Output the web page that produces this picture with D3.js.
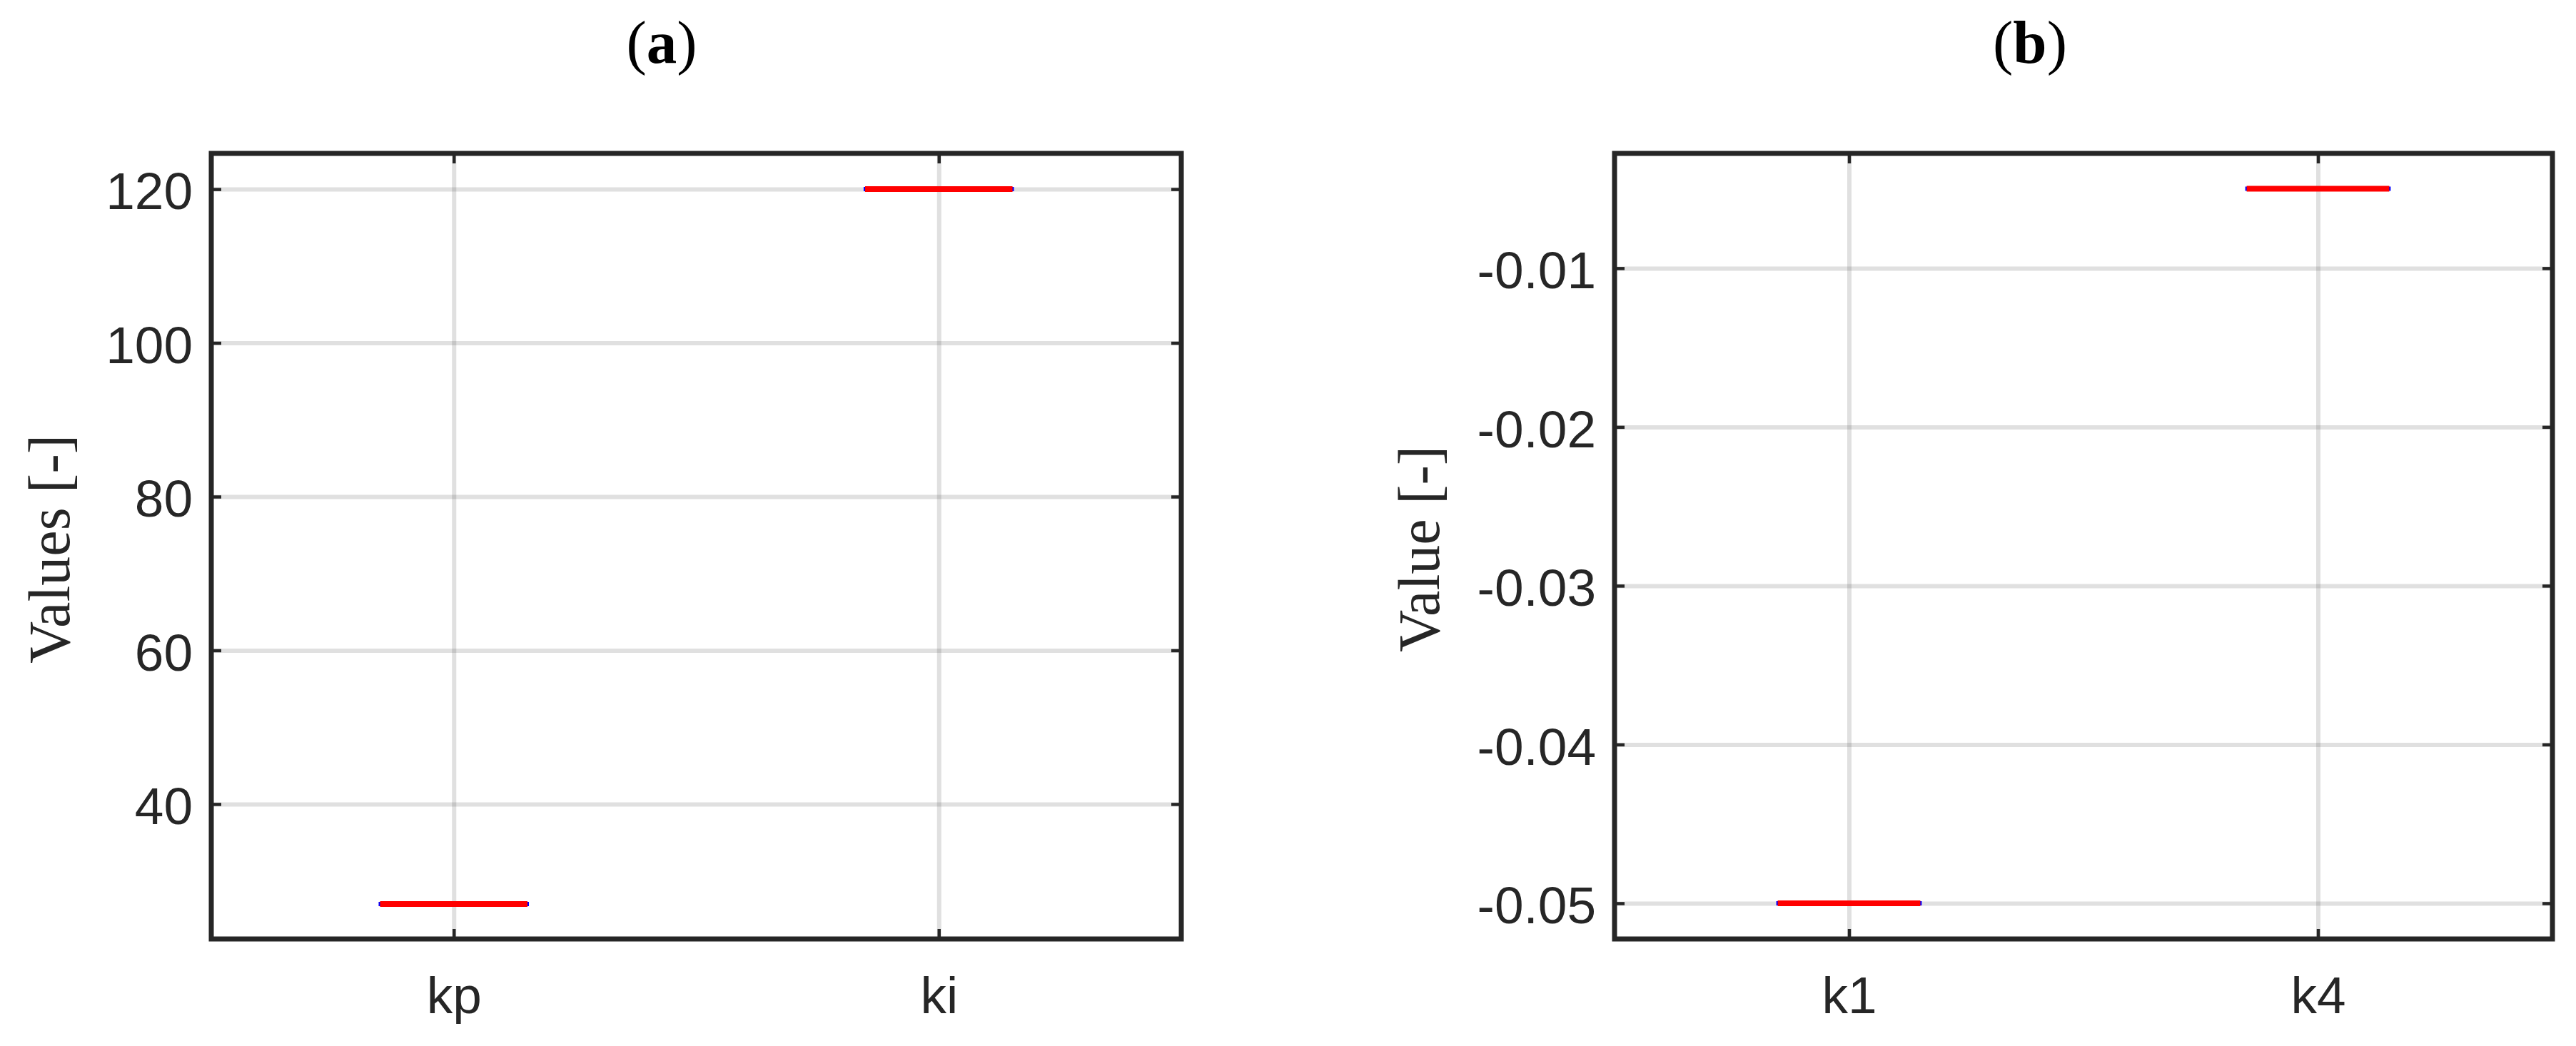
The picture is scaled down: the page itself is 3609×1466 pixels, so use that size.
<!DOCTYPE html>
<html>
<head>
<meta charset="utf-8">
<script src="https://cdn.jsdelivr.net/npm/d3@7"></script>
<style>
  body { margin: 0; background: #fff; }
  svg { display: block; }
</style>
</head>
<body>
<div id="chart-area"></div>
<script>
// panel (a)
const catsA = ["kp", "ki"]
const valsA = [27, 120]
const ticksA = [40, 60, 80, 100, 120]
const domainA = [22.45, 124.65]

// panel (b)
const catsB = ["k1", "k4"]
const valsB = [-0.05, -0.005]
const ticksB = [-0.05, -0.04, -0.03, -0.02, -0.01]
const domainB = [-0.05225, -0.00277]

const W = 3609, H = 1466
const ink = "#262626"

const svg = d3.select("#chart-area").append("svg")
	.attr("width", W)
	.attr("height", H)

const panels = [
	{ title: "a", cats: catsA, vals: valsA, ticks: ticksA, domain: domainA, fmt: d3.format("d"),
	  ylab: "Values [-]", left: 296, right: 1655, titleX: 927, labX: 97 },
	{ title: "b", cats: catsB, vals: valsB, ticks: ticksB, domain: domainB, fmt: d => d.toFixed(2),
	  ylab: "Value [-]", left: 2262, right: 3576, titleX: 2844, labX: 2016 }
]
const yTop = 215, yBottom = 1316

panels.forEach(p => {
	const x = d3.scalePoint().domain(p.cats).range([p.left, p.right]).padding(0.5)
	const y = d3.scaleLinear().domain(p.domain).range([yBottom, yTop])
	const g = svg.append("g")

	// grid
	g.append("g")
		.attr("transform", `translate(${p.left},0)`)
		.call(d3.axisLeft(y).tickValues(p.ticks).tickSize(-(p.right - p.left)).tickFormat(""))
		.call(a => a.select(".domain").remove())
		.selectAll("line").attr("stroke", ink).attr("stroke-opacity", 0.14).attr("stroke-width", 6)
	g.append("g")
		.attr("transform", `translate(0,${yBottom})`)
		.call(d3.axisBottom(x).tickSize(-(yBottom - yTop)).tickFormat(""))
		.call(a => a.select(".domain").remove())
		.selectAll("line").attr("stroke", ink).attr("stroke-opacity", 0.14).attr("stroke-width", 6)

	// median lines (blue ends under red)
	const half = x.step() * 0.152
	g.selectAll(".blue").data(p.vals).enter().append("line")
		.attr("x1", (d, i) => x(p.cats[i]) - half - 2)
		.attr("x2", (d, i) => x(p.cats[i]) + half + 2)
		.attr("y1", d => y(d)).attr("y2", d => y(d))
		.attr("stroke", "#0000ff").attr("stroke-width", 6)
	g.selectAll(".med").data(p.vals).enter().append("line")
		.attr("x1", (d, i) => x(p.cats[i]) - half)
		.attr("x2", (d, i) => x(p.cats[i]) + half)
		.attr("y1", d => y(d)).attr("y2", d => y(d))
		.attr("stroke", "#ff0000").attr("stroke-width", 8)

	// axes with inward ticks on all four sides
	const tickStyle = a => {
		a.select(".domain").remove()
		a.selectAll("line").attr("stroke", ink).attr("stroke-width", 4.5)
		a.selectAll("text").attr("fill", ink)
			.style("font-family", "'Liberation Sans', Arial, Helvetica, sans-serif")
			.style("font-size", "73px")
	}
	g.append("g").attr("transform", `translate(${p.left},0)`)
		.call(d3.axisLeft(y).tickValues(p.ticks).tickSize(-14).tickPadding(26).tickFormat(p.fmt))
		.call(tickStyle)
		.selectAll("text").attr("dy", "0.38em")
	g.append("g").attr("transform", `translate(${p.right},0)`)
		.call(d3.axisRight(y).tickValues(p.ticks).tickSize(-14).tickFormat(""))
		.call(tickStyle)
	g.append("g").attr("transform", `translate(0,${yBottom})`)
		.call(d3.axisBottom(x).tickSize(-14).tickPadding(0))
		.call(tickStyle)
		.selectAll("text").attr("y", 104).attr("dy", 0)
	g.append("g").attr("transform", `translate(0,${yTop})`)
		.call(d3.axisTop(x).tickSize(-14).tickFormat(""))
		.call(tickStyle)

	// box
	g.append("rect")
		.attr("x", p.left).attr("y", yTop)
		.attr("width", p.right - p.left).attr("height", yBottom - yTop)
		.attr("fill", "none").attr("stroke", ink).attr("stroke-width", 7)

	// y label
	g.append("text")
		.attr("transform", `translate(${p.labX},${(yTop + yBottom) / 2 + 4}) rotate(-90)`)
		.attr("text-anchor", "middle")
		.attr("fill", ink)
		.style("font-family", "'Palatino Linotype', 'Book Antiqua', Palatino, 'Liberation Serif', serif")
		.style("font-size", "82px")
		.text(p.ylab)

	// title
	const t = svg.append("text")
		.attr("x", p.titleX).attr("y", 88)
		.attr("text-anchor", "middle")
		.attr("fill", "#000")
		.style("font-family", "'Liberation Serif', 'Times New Roman', serif")
		.style("font-size", "85px")
	t.append("tspan").text("(")
	t.append("tspan").attr("font-weight", "bold").text(p.title)
	t.append("tspan").text(")")
})
</script>
</body>
</html>
